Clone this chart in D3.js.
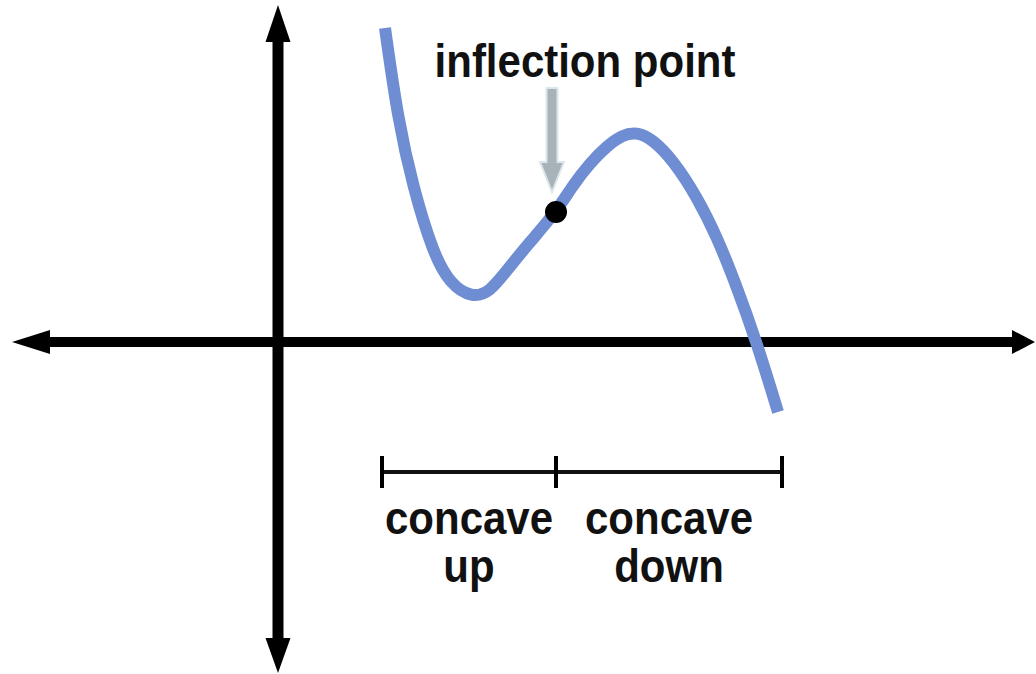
<!DOCTYPE html>
<html>
<head>
<meta charset="utf-8">
<script src="https://cdn.jsdelivr.net/npm/d3@7"></script>
<style>
  body { margin: 0; background: #fff; }
  svg { display: block; }
  text { font-family: "Liberation Sans", Arial, sans-serif; font-weight: bold; fill: #111; }
</style>
</head>
<body>
<svg id="drawing_region"></svg>
<script>
// curve (math units, origin at the axes crossing)
const curveX = [0.535, 0.60, 0.675, 0.775, 0.86, 0.97, 1.06, 1.145, 1.26, 1.39, 1.475, 1.56, 1.645, 1.72, 1.795, 1.87, 1.975, 2.095, 2.195, 2.285, 2.395, 2.5];
const curveY = [1.57, 1.11, 0.775, 0.445, 0.29, 0.22, 0.25, 0.36, 0.50, 0.65, 0.785, 0.895, 0.98, 1.035, 1.05, 1.015, 0.91, 0.725, 0.525, 0.30, -0.005, -0.35];

const inflection = { x: 1.39, y: 0.65, label: 'inflection point' };

// interval bracket under the axis
const bracketX = [0.52, 1.39, 2.52];
const bracketY = -0.65;
const intervalLabels = [
    { from: 0.52, to: 1.39, lines: ['concave', 'up'] },
    { from: 1.39, to: 2.52, lines: ['concave', 'down'] }
];

const width = 1036, height = 674;

const svg = d3.select('#drawing_region')
    .attr('width', width)
    .attr('height', height);

const x = d3.scaleLinear().domain([-1.33, 3.785]).range([12, 1035]);
const y = d3.scaleLinear().domain([-1.655, 1.685]).range([673, 5]);

// axes with arrow heads
const axisG = svg.append('g');
const x0 = x(0), y0 = y(0);

axisG.append('line')
    .attr('x1', x.range()[0] + 20).attr('x2', x.range()[1] - 15)
    .attr('y1', y0).attr('y2', y0)
    .attr('stroke', '#000').attr('stroke-width', 10);
axisG.append('line')
    .attr('x1', x0).attr('x2', x0)
    .attr('y1', y.range()[1] + 20).attr('y2', y.range()[0] - 20)
    .attr('stroke', '#000').attr('stroke-width', 11);

const heads = [
    [[x.range()[0], y0], [x.range()[0] + 38, y0 - 12], [x.range()[0] + 38, y0 + 12]],
    [[x.range()[1], y0], [x.range()[1] - 23, y0 - 12], [x.range()[1] - 23, y0 + 12]],
    [[x0, y.range()[1]], [x0 - 12.5, y.range()[1] + 37], [x0 + 12.5, y.range()[1] + 37]],
    [[x0, y.range()[0]], [x0 - 12.5, y.range()[0] - 35], [x0 + 12.5, y.range()[0] - 35]]
];
axisG.selectAll('path.head').data(heads).enter()
    .append('path')
    .attr('class', 'head')
    .attr('d', d => 'M' + d.join('L') + 'Z')
    .attr('fill', '#000');

// the curve
const pts = curveX.map((v, i) => [v, curveY[i]]);
const line = d3.line()
    .x(d => x(d[0]))
    .y(d => y(d[1]))
    .curve(d3.curveBasis);

svg.append('path')
    .datum(pts)
    .attr('d', line)
    .attr('fill', 'none')
    .attr('stroke', '#6f8dd3')
    .attr('stroke-width', 12);

// pointer arrow to the inflection point
const ax = x(inflection.x) - 4, tipY = y(inflection.y) - 20;
svg.append('path')
    .attr('d', `M${ax - 5.5},${tipY - 104}L${ax + 5.5},${tipY - 104}L${ax + 5.5},${tipY - 30}` +
               `L${ax + 12},${tipY - 30}L${ax},${tipY}L${ax - 12},${tipY - 30}L${ax - 5.5},${tipY - 30}Z`)
    .attr('fill', '#a8b3b9')
    .attr('stroke', '#dbe7eb')
    .attr('stroke-width', 2);

svg.append('circle')
    .attr('cx', x(inflection.x))
    .attr('cy', y(inflection.y))
    .attr('r', 11)
    .attr('fill', '#000');

svg.append('text')
    .attr('text-anchor', 'middle')
    .attr('transform', `translate(${x(inflection.x) + 29}, 77) scale(1, 1.12)`)
    .style('font-size', '42px')
    .text(inflection.label);

// bracket
const by = y(bracketY);
svg.append('line')
    .attr('x1', x(bracketX[0])).attr('x2', x(bracketX[bracketX.length - 1]))
    .attr('y1', by).attr('y2', by)
    .attr('stroke', '#111').attr('stroke-width', 4);
svg.selectAll('line.tick').data(bracketX).enter()
    .append('line')
    .attr('class', 'tick')
    .attr('x1', d => x(d)).attr('x2', d => x(d))
    .attr('y1', by - 16).attr('y2', by + 16)
    .attr('stroke', '#000').attr('stroke-width', 4);

intervalLabels.forEach(d => {
    const cx = (x(d.from) + x(d.to)) / 2;
    d.lines.forEach((t, i) => {
        svg.append('text')
            .attr('text-anchor', 'middle')
            .attr('transform', `translate(${cx}, ${534 + i * 48}) scale(1, 1.12)`)
            .style('font-size', '42px')
            .text(t);
    });
});
</script>
</body>
</html>
